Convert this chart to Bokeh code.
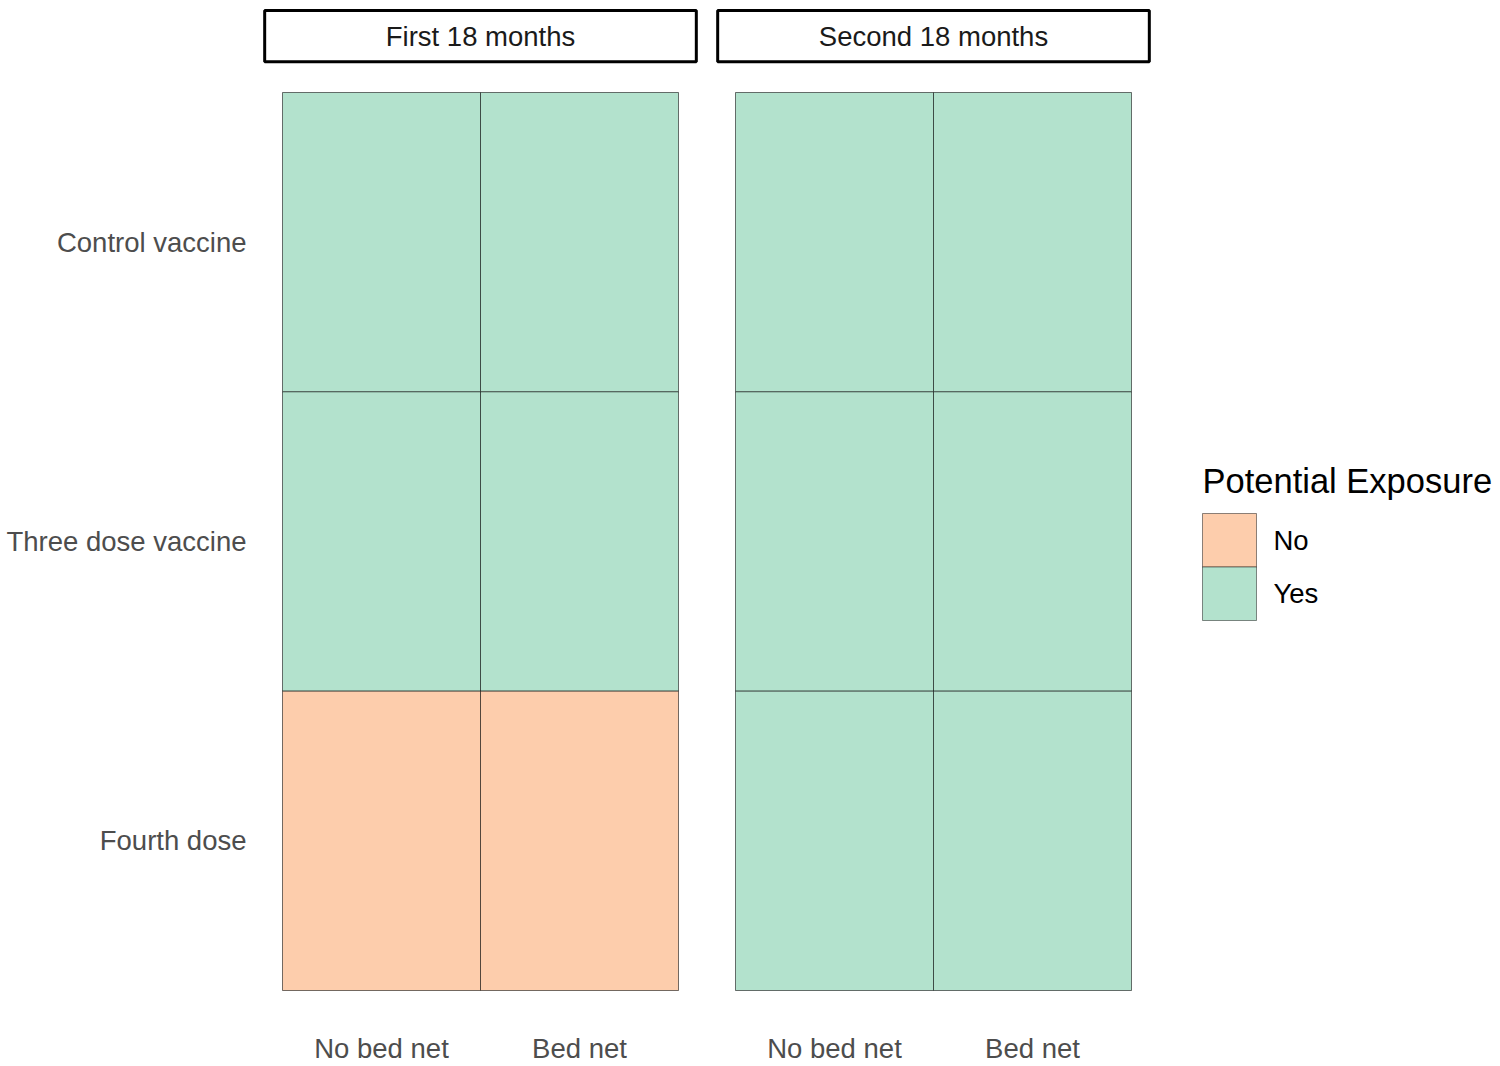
from bokeh.plotting import figure
from bokeh.models import ColumnDataSource, Range1d
from bokeh.embed import file_html
from bokeh.resources import INLINE
from bokeh.core.properties import value

# ---------------- data ----------------
periods = ["First 18 months", "Second 18 months"]
bed_nets = ["No bed net", "Bed net"]
vaccines = ["Control vaccine", "Three dose vaccine", "Fourth dose"]  # top to bottom
exposure_first = [["Yes", "Yes"], ["Yes", "Yes"], ["No", "No"]]
exposure_second = [["Yes", "Yes"], ["Yes", "Yes"], ["Yes", "Yes"]]
exposure_by_period = [exposure_first, exposure_second]
exposure_levels = ["No", "Yes"]
exposure_colors = ["#FDCDAC", "#B3E2CD"]
legend_title = "Potential Exposure"

# ---------------- layout (data units: 1 = one tile) ----------------
W, H = 1500, 1066
PX_X, PX_Y = 198.0, 299.33          # pixels per tile unit
X0_PX, Y0_PX = 282.0, 990.0          # picture pixel of (0,0)
PANEL_GAP = 57.0 / PX_X
n_rows = len(vaccines)
n_cols = len(bed_nets)


def xu(px):
    return (px - X0_PX) / PX_X


def yu(py):
    return (Y0_PX - py) / PX_Y


FONT = value("Liberation Sans")

p = figure(width=W, height=H,
           x_range=Range1d(xu(0), xu(W)), y_range=Range1d(yu(H), yu(0)),
           output_backend="svg", toolbar_location=None, min_border=0,
           x_axis_location=None, y_axis_location=None)
p.outline_line_color = None
p.grid.visible = False
p.background_fill_color = "white"
p.border_fill_color = "white"

color_of = dict(zip(exposure_levels, exposure_colors))

# tiles
left, right, bottom, top, fill = [], [], [], [], []
for k, period in enumerate(periods):
    off = k * (n_cols + PANEL_GAP)
    for i, vac in enumerate(vaccines):
        for j, bn in enumerate(bed_nets):
            lev = exposure_by_period[k][i][j]
            left.append(off + j)
            right.append(off + j + 1)
            bottom.append(n_rows - 1 - i)
            top.append(n_rows - i)
            fill.append(color_of[lev])
p.quad(left="left", right="right", bottom="bottom", top="top", fill_color="fill",
       line_color="black", line_alpha=0.55, line_width=1,
       source=ColumnDataSource(dict(left=left, right=right, bottom=bottom, top=top, fill=fill)))

# strips
STRIP_PAD = 0.09
strip_l = [k * (n_cols + PANEL_GAP) - STRIP_PAD for k in range(len(periods))]
strip_r = [k * (n_cols + PANEL_GAP) + n_cols + STRIP_PAD for k in range(len(periods))]
p.quad(left=strip_l, right=strip_r, bottom=yu(61.3), top=yu(10), fill_color="white",
       line_color="black", line_width=3)
p.text(x=[k * (n_cols + PANEL_GAP) + n_cols / 2 for k in range(len(periods))],
       y=yu(36), text=periods, text_font=FONT, text_font_size="27.5px",
       text_color="#1A1A1A", text_align="center", text_baseline="middle")

# y labels
p.text(x=xu(246), y=[n_rows - i - 0.5 for i in range(n_rows)], text=vaccines,
       text_font=FONT, text_font_size="27.5px", text_color="#4D4D4D",
       text_align="right", text_baseline="middle")

# x labels
xl, xt = [], []
for k in range(len(periods)):
    for j, bn in enumerate(bed_nets):
        xl.append(k * (n_cols + PANEL_GAP) + j + 0.5)
        xt.append(bn)
p.text(x=xl, y=yu(1048), text=xt, text_font=FONT, text_font_size="27.5px",
       text_color="#4D4D4D", text_align="center", text_baseline="middle")

# legend
KEY_H = 53.5 / PX_Y
key_top = yu(513)
p.text(x=xu(1202), y=yu(480), text=[legend_title], text_font=FONT,
       text_font_size="34.5px", text_color="black", text_align="left",
       text_baseline="middle")
p.quad(left=xu(1202), right=xu(1256),
       top=[key_top - m * KEY_H for m in range(len(exposure_levels))],
       bottom=[key_top - (m + 1) * KEY_H for m in range(len(exposure_levels))],
       fill_color=exposure_colors, line_color="black", line_alpha=0.45, line_width=1)
p.text(x=xu(1273), y=[key_top - (m + 0.5) * KEY_H for m in range(len(exposure_levels))],
       text=exposure_levels, text_font=FONT, text_font_size="27.5px",
       text_color="black", text_align="left", text_baseline="middle")

open("out.html", "w").write(file_html(p, INLINE))
